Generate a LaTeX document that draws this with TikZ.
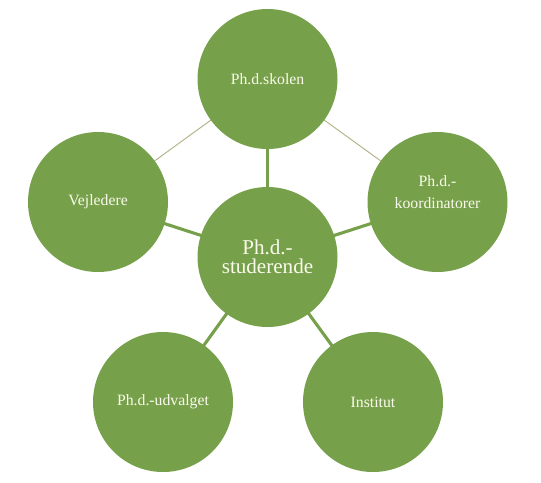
\documentclass[tikz,border=0pt]{standalone}
\usepackage{fontspec}
\setmainfont{Liberation Serif}
\usepackage{xcolor}
\usepackage{tikz}
\definecolor{bubblegreen}{RGB}{119,160,75}
\definecolor{ringline}{RGB}{180,180,140}
\definecolor{bubbletext}{RGB}{250,250,236}

\begin{document}
\begin{tikzpicture}[x=0.025cm,y=-0.025cm,
  bubble/.style={circle,fill=bubblegreen,draw=none,minimum size=140*0.025cm,inner sep=0pt,
    text=bubbletext,align=center,font=\fontsize{11.2}{15.2}\selectfont},
  hub/.style={bubble,font=\fontsize{15}{13.7}\selectfont},
  spoke/.style={draw=bubblegreen,line width=2.2pt},
  rim/.style={draw=ringline,line width=0.7pt}]
\useasboundingbox (0,0) rectangle (541,482);
% connectors go first, the bubbles cover their ends
\coordinate (c) at (267.5,257);
\coordinate (t) at (267.5,79);
\coordinate (l) at (98,202);
\coordinate (r) at (437.5,202);
\coordinate (bl) at (163,402);
\coordinate (br) at (373,402);
\foreach \a in {t,l,r,bl,br} {
  \draw[spoke] (c) -- (\a);
}
\draw[rim] (l) -- (t) -- (r);
% bubbles
\node[hub] (studerende) at (c) {Ph.d.-\\studerende};
\node[bubble] (skolen) at (t) {Ph.d.skolen};
\node[bubble] (vejledere) at (l) {Vejledere};
\node[bubble,text depth=14pt] (koord) at (r) {Ph.d.-\\koordinatorer};
\node[bubble] (udvalget) at (bl) {Ph.d.-udvalget};
\node[bubble] (institut) at (br) {Institut};
\end{tikzpicture}
\end{document}
